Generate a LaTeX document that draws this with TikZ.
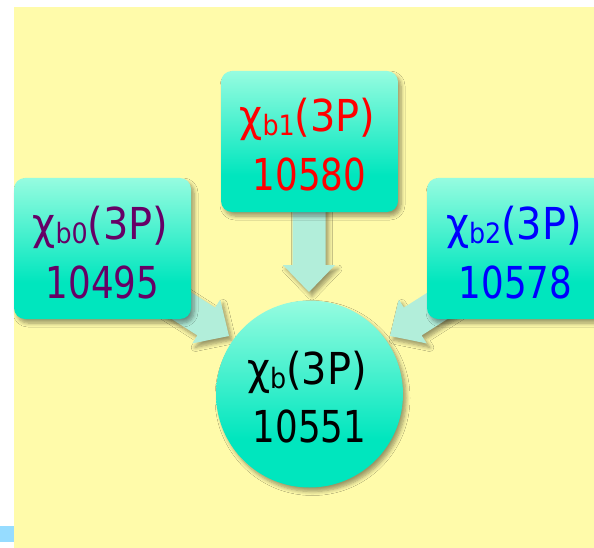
\documentclass[tikz,border=0pt]{standalone}
\usepackage{fontspec}
\newfontfamily\boxfont[FakeStretch=0.9]{DejaVu Sans Condensed}
\usetikzlibrary{shadows.blur}
\definecolor{bgyellow}{RGB}{255,251,170}
\definecolor{boxtop}{RGB}{150,252,224}
\definecolor{boxbot}{RGB}{0,230,190}
\definecolor{arrowfill}{RGB}{178,238,218}
\definecolor{purp}{RGB}{102,0,102}
\definecolor{markblue}{RGB}{150,220,255}
\pgfdeclareverticalshading{boxshade}{100bp}{color(0bp)=(boxbot); color(25bp)=(boxbot); color(38bp)=(boxbot); color(75bp)=(boxtop); color(100bp)=(boxtop)}
\newcommand\subs[1]{\raisebox{-4pt}{\fontsize{28}{28}\selectfont #1}}
\newcommand\firstline[1]{\scalebox{1.12}[1]{#1}}
\begin{document}
\begin{tikzpicture}[x=1pt,y=1pt,
  shadowed/.style={blur shadow={shadow xshift=3pt,shadow yshift=-4pt,shadow blur steps=6,shadow blur radius=4pt,shadow opacity=40}},
  statebox/.style={shadowed,draw=none,shading=boxshade,rounded corners=11pt,minimum width=177pt,minimum height=141pt,inner sep=0pt},
  statecircle/.style={shadowed,draw=none,shading=boxshade,circle,minimum size=187pt,inner sep=0pt},
  lbl/.style={anchor=base,inner sep=0pt,font=\boxfont\fontsize{44}{50}\selectfont},
  blockarrow/.style={fill=arrowfill,draw=none,shadowed}]
\useasboundingbox (0,0) rectangle (594,-548);
\clip (0,0) rectangle (594,-548);
% background
\fill[bgyellow] (14,-7) rectangle (594,-548);
\fill[markblue] (0,-526) rectangle (14,-542);
% arrow tips
\coordinate (tipdown) at (309,-292);
\coordinate (tipleft) at (229,-336);
\coordinate (tipright) at (390,-336);
% block arrows (drawn behind the boxes)
\begin{scope}[shift={(tipdown)},rotate=-90]
  \path[blockarrow] (-95,-16.5) -- (-27,-16.5) -- (-27,-26) -- (0,0) -- (-27,26) -- (-27,16.5) -- (-95,16.5) -- cycle;
\end{scope}
\begin{scope}[shift={(tipleft)},rotate=-32.5]
  \path[blockarrow] (-95,-16.5) -- (-27,-16.5) -- (-27,-26) -- (0,0) -- (-27,26) -- (-27,16.5) -- (-95,16.5) -- cycle;
\end{scope}
\begin{scope}[shift={(tipright)},rotate=-147.5]
  \path[blockarrow] (-95,-16.5) -- (-27,-16.5) -- (-27,-26) -- (0,0) -- (-27,26) -- (-27,16.5) -- (-95,16.5) -- cycle;
\end{scope}
% boxes
\node[statebox] (b1) at (309.5,-141.5) {};
\node[statebox] (b0) at (102.5,-248.5) {};
\node[statebox] (b2) at (515.5,-248.5) {};
\node[statecircle] (b) at (309.5,-394) {};
% texts
\node[lbl,text=red] (b1a) at (307.5,-132) {\firstline{χ\subs{b1}(3P)}};
\node[lbl,text=red] (b1b) at (309.5,-190) {10580};
\node[lbl,text=purp] (b0a) at (100.5,-240) {\firstline{χ\subs{b0}(3P)}};
\node[lbl,text=purp] (b0b) at (102.5,-298) {10495};
\node[lbl,text=blue] (b2a) at (514,-240) {\firstline{χ\subs{b2}(3P)}};
\node[lbl,text=blue] (b2b) at (515.5,-298) {10578};
\node[lbl,text=black] (ba) at (307,-384) {\firstline{χ\subs{b}(3P)}};
\node[lbl,text=black] (bb) at (309.5,-442) {10551};
\end{tikzpicture}
\end{document}
